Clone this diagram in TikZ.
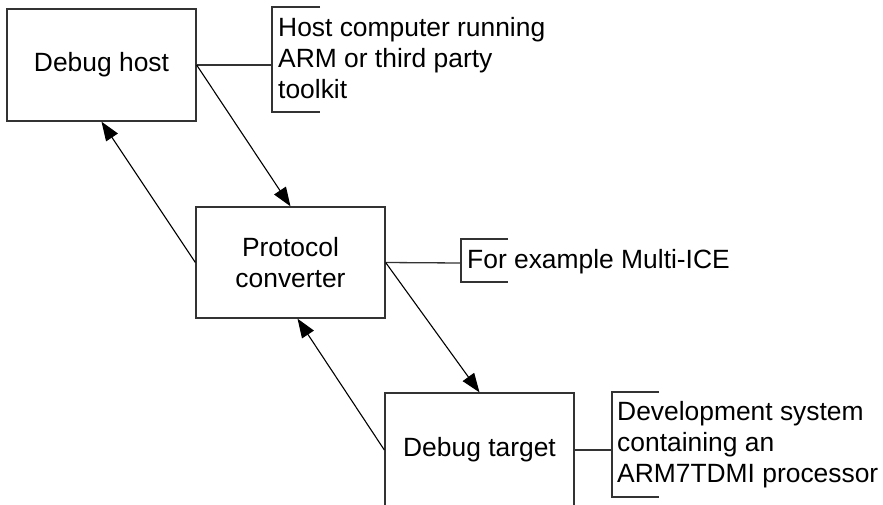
\documentclass[tikz,border=0pt]{standalone}
\usepackage{fontspec}
\setmainfont{Liberation Sans}
\usetikzlibrary{arrows.meta}
\begin{document}
\begin{tikzpicture}[x=1pt,y=-1pt,
  txt/.style={font=\fontsize{26.4}{31}\selectfont},
  box/.style={txt, draw=black!80, line width=1.3pt, minimum width=189pt, inner sep=0pt, align=center},
  note/.style={txt, anchor=base west, inner sep=0pt, align=left},
  bracket/.style={draw=black!80, line width=1.3pt},
  link/.style={draw=black!80, line width=1.3pt},
  arr/.style={draw=black, line width=1.1pt, -{Triangle[length=19pt,width=14pt]}}]
\clip (0,0) rectangle (883,504);
% boxes
\node[box, minimum height=112pt] (dh) at (101.5,65) {Debug host};
\node[box, minimum height=111pt] (pc) at (290.5,262.5) {Protocol\\converter};
\node[box, minimum height=114pt] (dt) at (479.5,450) {Debug target};
% annotation brackets
\coordinate (b1) at (272,65);
\coordinate (b2) at (461,263);
\coordinate (b3) at (612,450);
\draw[bracket] (320,7) -| (272,112) -- (320,112);
\draw[bracket] (508,239) -| (461,282) -- (508,282);
\draw[bracket] (659,392) -| (612,497) -- (659,497);
% annotation texts (base = last line)
\node[note] (n1) at (278,98) {Host computer running\\ARM or third party\\toolkit};
\node[note] (n2) at (467,268) {For example Multi-ICE};
\node[note] (n3) at (617,482) {Development system\\containing an\\ARM7TDMI processor};
% links to brackets
\draw[link] (dh.east) -- (b1);
\draw[link] (pc.east) -- (b2);
\draw[link] (dt.east) -- (b3);
% arrows
\draw[arr] (dh.east) -- (pc.north);
\draw[arr] (pc.west) -- (dh.south);
\draw[arr] (pc.east) -- (dt.north);
\draw[arr] (dt.west) -- ([xshift=7pt]pc.south);
\end{tikzpicture}
\end{document}
